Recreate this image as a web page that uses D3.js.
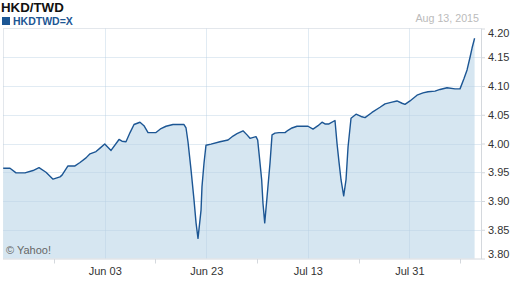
<!DOCTYPE html>
<html><head><meta charset="utf-8">
<script src="https://cdn.jsdelivr.net/npm/d3@7/dist/d3.min.js"></script>
<style>body{margin:0;background:#fff}svg{display:block;font-family:Arial,"Liberation Sans",sans-serif}</style>
</head><body>
<svg id="c" width="512" height="288"></svg>
<script>
// trading-session offset from May 14, 2015 (weekdays), fractional = intraday
const sessions = [0,0.94,1.77,3.0,4.11,4.94,5.9,6.87,7.83,8.11,8.93,9.9,10.59,11.42,11.97,12.8,13.35,14.0,14.87,15.97,16.38,16.93,17.49,18.04,18.86,19.41,19.97,21.07,21.76,22.45,23.41,24.93,25.21,25.48,25.9,26.31,26.59,26.86,27.28,27.41,27.69,27.96,28.65,29.89,31.0,31.69,32.24,33.07,33.62,34.03,34.86,35.09,35.37,35.64,35.82,36.06,36.38,36.79,37.07,37.48,38.03,38.86,39.27,39.82,40.51,42.03,42.72,43.41,43.96,44.37,44.92,45.75,46.03,46.3,46.58,46.95,47.27,47.55,47.96,48.65,49.34,49.89,50.85,51.96,52.65,53.61,54.3,54.99,55.4,56.09,57.06,57.89,58.58,59.54,60.23,61.2,62.3,62.99,63.54,63.96,64.37,64.65,65];
const rates = [3.957,3.957,3.949,3.949,3.953,3.958,3.950,3.938,3.942,3.945,3.961,3.961,3.967,3.975,3.982,3.986,3.992,3.999,3.988,4.007,4.004,4.003,4.019,4.033,4.037,4.031,4.019,4.019,4.026,4.030,4.033,4.033,4.027,4.003,3.954,3.902,3.862,3.835,3.884,3.925,3.966,3.997,3.999,4.003,4.006,4.013,4.017,4.022,4.015,4.009,4.012,4.006,3.971,3.937,3.896,3.862,3.907,3.966,4.015,4.018,4.019,4.019,4.023,4.027,4.030,4.030,4.025,4.031,4.037,4.034,4.034,4.040,4.000,3.968,3.937,3.909,3.937,3.994,4.044,4.051,4.047,4.045,4.054,4.063,4.069,4.072,4.074,4.070,4.068,4.074,4.084,4.088,4.090,4.091,4.094,4.097,4.095,4.095,4.113,4.128,4.150,4.166,4.183];
const xTickSessions = [14,28,42,56];
const xTickLabels = ["Jun 03","Jun 23","Jul 13","Jul 31"];
const xMinorSessions = [7,21,35,49,63];
const yTicks = [3.80,3.85,3.90,3.95,4.00,4.05,4.10,4.15,4.20];
const title = "HKD/TWD";
const seriesName = "HKDTWD=X";
const dateLabel = "Aug 13, 2015";

const data = sessions.map((s,i)=>({s, v: rates[i]}));
const svg = d3.select("#c");
const L = 3, R = 481, T = 28.5, B = 258.5;
const x = d3.scaleLinear().domain([0,65]).range([3.2,474.6]);
const y = d3.scaleLinear().domain([3.80,4.20]).range([B,T]);

// plot frame (light)
svg.append("line").attr("x1",L).attr("x2",R).attr("y1",T).attr("y2",T).attr("stroke","#e3e7ec");
svg.append("line").attr("x1",L+0.5).attr("x2",L+0.5).attr("y1",T).attr("y2",B).attr("stroke","#e3e7ec");

// area
svg.append("path").datum(data)
  .attr("d", d3.area().x(d=>x(d.s)).y0(B).y1(d=>y(d.v)))
  .attr("fill","#d6e6f1");

// grid
const grid = svg.append("g").attr("stroke","#b8cfe2").attr("stroke-opacity",0.42);
grid.selectAll("line.h").data(yTicks.slice(1,-1)).join("line")
  .attr("x1",L).attr("x2",R).attr("y1",d=>Math.round(y(d))+0.5).attr("y2",d=>Math.round(y(d))+0.5);
grid.selectAll("line.v").data(xTickSessions).join("line")
  .attr("x1",d=>Math.round(x(d))+0.5).attr("x2",d=>Math.round(x(d))+0.5).attr("y1",T).attr("y2",B);

// line
svg.append("path").datum(data)
  .attr("d", d3.line().x(d=>x(d.s)).y(d=>y(d.v)))
  .attr("fill","none").attr("stroke","#1c5694").attr("stroke-width",1.4).attr("stroke-linejoin","round");

// axes lines
svg.append("line").attr("x1",L).attr("x2",R).attr("y1",B+0.5).attr("y2",B+0.5).attr("stroke","#d4d8dd");
svg.append("line").attr("x1",R+0.5).attr("x2",R+0.5).attr("y1",T).attr("y2",B+0.5).attr("stroke","#d4d8dd");

// y axis
const yAxis = d3.axisRight(y).tickValues(yTicks).tickFormat(d3.format(".2f")).tickSize(4).tickPadding(3);
const gy = svg.append("g").attr("transform",`translate(${R},0)`).call(yAxis);
gy.select(".domain").remove();
gy.selectAll(".tick line").attr("stroke","#d4d8dd");
gy.selectAll(".tick text").attr("fill","#333").attr("font-size",11).attr("font-family","Arial,'Liberation Sans',sans-serif")
  .attr("dy",(d)=> d===4.20 ? "0.75em" : d===3.80 ? "-0.05em" : "0.32em");

// x axis
const xAxis = d3.axisBottom(x).tickValues(xTickSessions).tickFormat((d,i)=>xTickLabels[i]).tickSize(0).tickPadding(9);
const gx = svg.append("g").attr("transform",`translate(0,${B})`).call(xAxis);
gx.select(".domain").remove();
gx.selectAll(".tick text").attr("fill","#333").attr("font-size",11).attr("font-family","Arial,'Liberation Sans',sans-serif");
svg.append("g").selectAll("line").data(xMinorSessions).join("line")
  .attr("x1",d=>Math.round(x(d))+0.5).attr("x2",d=>Math.round(x(d))+0.5)
  .attr("y1",B+0.5).attr("y2",B+5).attr("stroke","#d4d8dd");

// texts
svg.append("text").attr("x",1).attr("y",12).attr("font-size",13.3).attr("font-weight","bold").attr("fill","#111").text(title);
svg.append("rect").attr("x",2).attr("y",17).attr("width",8).attr("height",8).attr("fill","#1c5694");
svg.append("text").attr("x",13).attr("y",25).attr("font-size",10.5).attr("font-weight","bold").attr("fill","#1c5694").text(seriesName);
svg.append("text").attr("x",479).attr("y",22).attr("text-anchor","end").attr("font-size",10.7).attr("fill","#bbb").text(dateLabel);
svg.append("text").attr("x",6).attr("y",254).attr("font-size",11).attr("fill","#666").text("© Yahoo!");
</script>
</body></html>
